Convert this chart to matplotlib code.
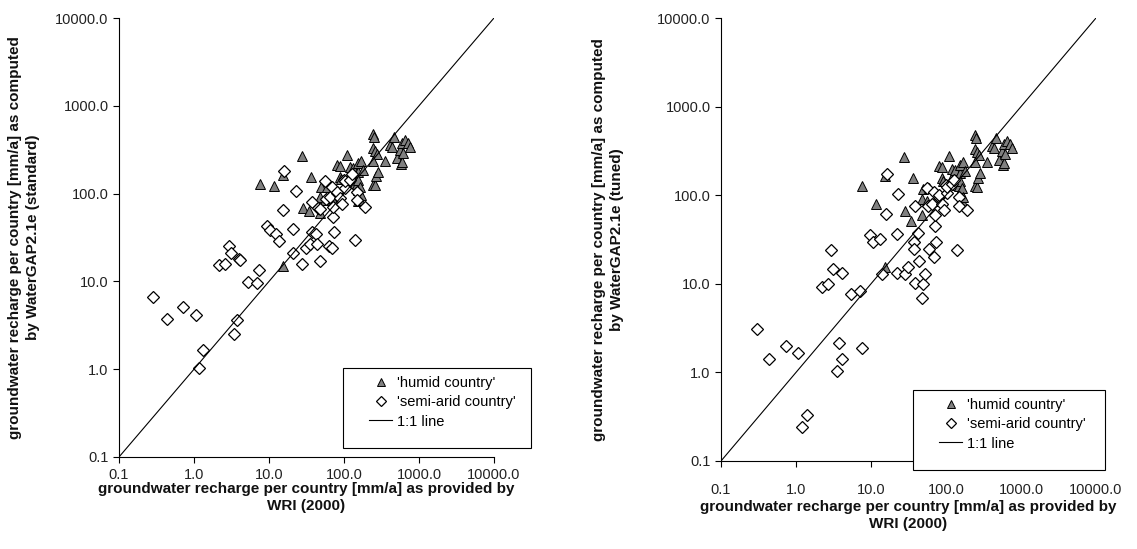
import matplotlib
matplotlib.use("Agg")
import matplotlib.pyplot as plt
from matplotlib.patches import Rectangle
import numpy as np

plt.rcParams['font.family'] = ['Liberation Sans', 'DejaVu Sans']

# ---------------- data (mm/a) ----------------
# Left panel: WaterGAP2.1e (standard)
humid_std_x = [7.5, 11.7, 15.2, 15.5, 27.3, 28.6, 34.1, 36.6, 47.5, 48, 50, 58.8, 55.8, 72,
               80, 88, 88, 91, 109, 120, 124, 133, 140, 150, 152, 152, 154, 154, 154, 163,
               163, 167, 171, 177, 241, 251, 241, 260, 279, 241, 246, 260, 267, 286, 352,
               410, 432, 469, 504, 558, 576, 588, 588, 618, 650, 720, 760]
humid_std_y = [128, 122, 14.9, 163, 268, 69, 64, 156, 91, 60, 118, 120, 85, 85,
               212, 206, 156, 146, 275, 200, 167, 194, 131, 128, 177, 83, 221, 143, 110, 120,
               85, 237, 96, 186, 473, 444, 328, 308, 282, 237, 126, 125, 158, 177, 235,
               357, 337, 444, 252, 314, 217, 374, 231, 288, 407, 380, 337]

semi_std_x = [0.286, 0.43, 0.72, 1.06, 1.18, 1.33, 2.17, 2.61, 2.9, 3.11, 3.41, 3.7, 4.02, 4.1,
              5.25, 6.9, 7.4, 9.5, 10.4, 12.5, 13.6, 15.4, 15.7, 21.1, 21.1, 22.9, 27.3, 30.8,
              35, 38, 38, 42.6, 44, 45.6, 48.3, 48, 55.8, 57.5, 63.4, 65, 68.5, 70, 70.6, 72,
              74, 80, 80, 88, 93, 101, 103, 103, 120, 129, 140, 147, 147, 190]
semi_std_y = [6.7, 3.76, 5.07, 4.18, 1.04, 1.66, 15.4, 15.7, 25.3, 21.2, 2.5, 3.63, 17.9, 17.3,
              9.85, 9.7, 13.5, 43, 39, 35, 28.6, 65, 182, 40, 21.2, 108, 15.7, 24.2,
              26.7, 81, 36.8, 35, 27, 68, 17.2, 66, 139, 87.5, 25.3, 92, 120, 24.3, 54.6, 71,
              36.8, 100.7, 105, 88, 77, 143, 115, 140, 143, 166, 29.6, 105, 85, 71]

# Right panel: WaterGAP2.1e (tuned)
humid_tun_x = humid_std_x
humid_tun_y = [128, 80, 15.3, 163, 268, 66, 51, 156, 91, 60, 118, 120, 85, 85,
               212, 206, 156, 146, 275, 200, 167, 194, 131, 128, 177, 83, 221, 143, 110, 120,
               85, 237, 96, 186, 473, 444, 328, 308, 282, 237, 126, 125, 158, 177, 235,
               357, 337, 444, 252, 314, 217, 374, 231, 288, 407, 380, 337]

semi_tun_x = [0.3, 0.436, 0.736, 1.07, 1.2, 1.39, 2.2, 2.65, 2.93, 3.14, 3.49, 3.78, 4.06, 4.06,
              5.36, 7.1, 7.5, 9.7, 10.5, 13.2, 13.9, 15.9, 16.2, 22, 22.2, 23.1, 28.7, 31.3,
              37.8, 39, 37.8, 42.7, 38.6, 44, 48, 50, 52, 55.8, 57.5, 60, 65, 68.5, 70, 70.6,
              72, 74, 80, 80, 88, 93, 101, 103, 103, 120, 129, 140, 147, 147, 190]
semi_tun_y = [3.05, 1.42, 1.98, 1.64, 0.24, 0.33, 9.1, 9.9, 23.8, 14.7, 1.03, 2.12, 13.1, 1.42,
              7.6, 8.3, 1.91, 35.3, 29.7, 31.8, 12.8, 62, 172, 36.9, 13.1, 102, 12.8, 15.3,
              29.7, 75, 24.5, 37.6, 10.1, 18, 6.9, 10, 13, 120, 75, 25, 80, 110, 20, 45,
              60, 30, 95, 100, 80, 68, 130, 105, 125, 135, 150, 24, 95, 75, 68]

tick_vals = [0.1, 1, 10, 100, 1000, 10000]
tick_labels = ["0.1", "1.0", "10.0", "100.0", "1000.0", "10000.0"]
line_11 = [0.1, 10000]

legend_labels = ["'humid country'", "'semi-arid country'", "1:1 line"]
xlabel = "groundwater recharge per country [mm/a] as provided by\nWRI (2000)"
ylabel_std = "groundwater recharge per country [mm/a] as computed\nby WaterGAP2.1e (standard)"
ylabel_tun = "groundwater recharge per country [mm/a] as computed\nby WaterGAP2.1e (tuned)"

W, H = 1137, 549
fig = plt.figure(figsize=(W / 100, H / 100), dpi=100)
fig.patch.set_facecolor('white')


def make_panel(rect, hx, hy, sx, sy, ylabel, leg_box, xlab_y, ylab_x, xpad):
    l, t, r, b = rect
    ax = fig.add_axes([l / W, 1 - b / H, (r - l) / W, (b - t) / H])
    ax.set_xscale('log')
    ax.set_yscale('log')
    ax.set_xlim(0.1, 10000)
    ax.set_ylim(0.1, 10000)
    h1, = ax.plot(hx, hy, linestyle='none', marker='^', markersize=6.5,
                  markerfacecolor='#808080', markeredgecolor='black', markeredgewidth=0.7)
    h2, = ax.plot(sx, sy, linestyle='none', marker='D', markersize=5.8,
                  markerfacecolor='white', markeredgecolor='black', markeredgewidth=0.9)
    h3, = ax.plot(line_11, line_11, color='black', linewidth=0.8)
    ax.set_xticks(tick_vals)
    ax.set_xticklabels(tick_labels)
    ax.set_yticks(tick_vals)
    ax.set_yticklabels(tick_labels)
    ax.minorticks_off()
    ax.tick_params(axis='both', which='major', labelsize=10.5, length=4, width=0.8,
                   direction='out', color='black', colors='#222222')
    ax.tick_params(axis='x', pad=xpad)
    for s in ['top', 'right']:
        ax.spines[s].set_visible(False)
    for s in ['left', 'bottom']:
        ax.spines[s].set_linewidth(0.8)
    fig.text((l + r) / 2 / W, 1 - xlab_y / H, xlabel, ha='center', va='top',
             fontsize=11, fontweight='bold', linespacing=1.3, color='#111111')
    fig.text(ylab_x / W, 1 - (t + b) / 2 / H, ylabel, ha='center', va='center',
             rotation=90, fontsize=11, fontweight='bold', linespacing=1.3, color='#111111')
    # legend frame drawn as a rectangle, legend content placed inside it
    bl, bt, br, bb = leg_box
    fig.patches.append(Rectangle((bl / W, 1 - bb / H), (br - bl) / W, (bb - bt) / H,
                                 transform=fig.transFigure, facecolor='white',
                                 edgecolor='black', linewidth=0.8, zorder=5))
    leg = fig.legend([h1, h2, h3], legend_labels, loc='upper left',
                     bbox_to_anchor=((bl + 26) / W, 1 - (bt + 8) / H),
                     fontsize=10.5, frameon=False, borderpad=0, labelspacing=0.36,
                     handlelength=1.6, handletextpad=0.3, borderaxespad=0,
                     markerscale=0.85)
    leg.set_zorder(6)
    return ax


make_panel((119, 18, 494, 457), humid_std_x, humid_std_y, semi_std_x, semi_std_y,
           ylabel_std, (343, 368, 531, 448), 482, 24, 4)
make_panel((721, 18, 1096, 461), humid_tun_x, humid_tun_y, semi_tun_x, semi_tun_y,
           ylabel_tun, (913, 390, 1105, 470), 500, 608, 12)

fig.savefig('out.png', dpi=100)
